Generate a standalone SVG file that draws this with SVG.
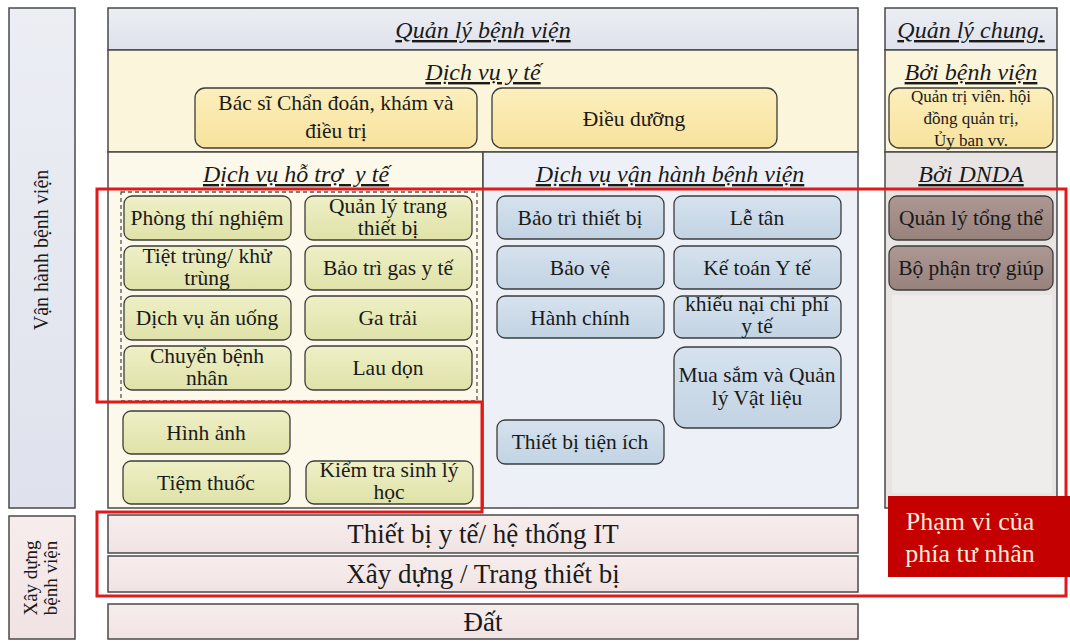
<svg xmlns="http://www.w3.org/2000/svg" width="1070" height="641" viewBox="0 0 1070 641">
<defs>
<linearGradient id="gGreen" x1="0" y1="0" x2="0" y2="1"><stop offset="0" stop-color="#eef0c6"/><stop offset="1" stop-color="#dfe2a8"/></linearGradient>
<linearGradient id="gBlue" x1="0" y1="0" x2="0" y2="1"><stop offset="0" stop-color="#d6e2ee"/><stop offset="1" stop-color="#c2d3e3"/></linearGradient>
<linearGradient id="gYellow" x1="0" y1="0" x2="0" y2="1"><stop offset="0" stop-color="#fcefbd"/><stop offset="1" stop-color="#f8e29c"/></linearGradient>
<linearGradient id="gBrown" x1="0" y1="0" x2="0" y2="1"><stop offset="0" stop-color="#ad9893"/><stop offset="1" stop-color="#98827c"/></linearGradient>
<linearGradient id="gLav" x1="0" y1="0" x2="0" y2="1"><stop offset="0" stop-color="#eceef4"/><stop offset="1" stop-color="#dfe2ec"/></linearGradient>
<linearGradient id="gPink" x1="0" y1="0" x2="0" y2="1"><stop offset="0" stop-color="#f7eded"/><stop offset="1" stop-color="#f1e3e3"/></linearGradient>
</defs>
<style>
.frame{stroke:#4a4a4a;stroke-width:1.5}
.box{stroke:#3c3c3c;stroke-width:1.3}
.green{fill:url(#gGreen)}
.blue{fill:url(#gBlue)}
.yellow{fill:url(#gYellow)}
.brown{fill:url(#gBrown)}
text{font-family:"Liberation Serif","Times New Roman",serif;fill:#1a1a1a;text-anchor:middle}
.t{font-size:21.5px}
.title{font-size:24px;font-style:italic;text-decoration:underline}
.big{font-size:27px}
.small{font-size:17px}
.side{font-size:20px}
.red{fill:none;stroke:#e01a1a;stroke-width:3}
</style>

<!-- left side labels -->
<g id="side-operation">
<rect x="9" y="8" width="66" height="500" fill="url(#gLav)" class="frame"/>
<text class="side" transform="translate(48,250) rotate(-90)">Vận hành bệnh viện</text>
</g>
<g id="side-construction">
<rect x="9" y="516" width="66" height="123" fill="url(#gPink)" class="frame"/>
<text class="side" style="font-size:19px" transform="translate(37,578) rotate(-90)">Xây dựng</text>
<text class="side" style="font-size:19px" transform="translate(57,578) rotate(-90)">bệnh viện</text>
</g>

<!-- main hospital block -->
<g id="hospital-management">
<rect x="108" y="8" width="750" height="42" fill="url(#gLav)" class="frame"/>
<text class="title" x="483" y="38">Quản lý bệnh viện</text>
</g>
<g id="medical-services">
<rect x="108" y="50" width="750" height="102" fill="#fbf5dc" class="frame"/>
<text class="title" x="483" y="80">Dịch vụ y tế</text>
</g>
<g id="medical-support">
<rect x="108" y="152" width="375" height="356" fill="#fcf8ea" class="frame"/>
<text class="title" x="296" y="182" xml:space="preserve">Dịch vụ hỗ trợ  y tế</text>
<rect x="121" y="192" width="356" height="209" fill="none" stroke="#555" stroke-width="1.3" stroke-dasharray="4,3"/>
</g>
<g id="hospital-operation-services">
<rect x="483" y="152" width="375" height="356" fill="#edf1f7" class="frame"/>
<text class="title" x="670" y="182">Dịch vụ vận hành bệnh viện</text>
</g>

<!-- right panel -->
<g id="general-management">
<rect x="885" y="8" width="172" height="42" fill="url(#gLav)" class="frame"/>
<text class="title" x="971" y="38">Quản lý chung.</text>
</g>
<g id="by-hospital">
<rect x="885" y="50" width="172" height="102" fill="#fbf5dc" class="frame"/>
<text class="title" x="971" y="80">Bởi bệnh viện</text>
</g>
<g id="by-dnda">
<rect x="885" y="152" width="172" height="356" fill="#e9e4e4" class="frame"/>
<rect x="892" y="295" width="160" height="198" fill="#efecec"/>
<text class="title" x="971" y="182">Bởi DNDA</text>
</g>

<!-- medical services boxes -->
<g id="n-doctor">
<rect x="195" y="88" width="282" height="60" rx="10" class="box yellow"/>
<text class="t" x="336" y="110">Bác sĩ Chẩn đoán, khám và</text>
<text class="t" x="336" y="138">điều trị</text>
</g>
<g id="n-nursing">
<rect x="492" y="88" width="285" height="60" rx="10" class="box yellow"/>
<text class="t" x="634" y="126">Điều dưỡng</text>
</g>
<g id="n-board">
<rect x="889" y="88" width="164" height="60" rx="10" class="box yellow"/>
<text class="small" x="971" y="102">Quản trị viên. hội</text>
<text class="small" x="971" y="124">đồng quản trị,</text>
<text class="small" x="971" y="146">Ủy ban vv.</text>
</g>

<!-- medical support boxes -->
<g id="n-lab"><rect x="124" y="196" width="167" height="44" rx="8" class="box green"/><text class="t" x="207" y="225">Phòng thí nghiệm</text></g>
<g id="n-equip-mgmt"><rect x="305" y="196" width="167" height="44" rx="8" class="box green"/><text class="t" x="388" y="213">Quản lý trang</text><text class="t" x="388" y="235">thiết bị</text></g>
<g id="n-steril"><rect x="124" y="246" width="167" height="44" rx="8" class="box green"/><text class="t" x="207" y="263">Tiệt trùng/ khử</text><text class="t" x="207" y="285">trùng</text></g>
<g id="n-gas"><rect x="305" y="246" width="167" height="44" rx="8" class="box green"/><text class="t" x="388" y="275">Bảo trì gas y tế</text></g>
<g id="n-food"><rect x="124" y="296" width="167" height="44" rx="8" class="box green"/><text class="t" x="207" y="325">Dịch vụ ăn uống</text></g>
<g id="n-linen"><rect x="305" y="296" width="167" height="44" rx="8" class="box green"/><text class="t" x="388" y="325">Ga trải</text></g>
<g id="n-transfer"><rect x="124" y="346" width="167" height="44" rx="8" class="box green"/><text class="t" x="207" y="363">Chuyển bệnh</text><text class="t" x="207" y="385">nhân</text></g>
<g id="n-cleaning"><rect x="305" y="346" width="167" height="44" rx="8" class="box green"/><text class="t" x="388" y="375">Lau dọn</text></g>
<g id="n-imaging"><rect x="123" y="411" width="167" height="43" rx="8" class="box green"/><text class="t" x="206" y="440">Hình ảnh</text></g>
<g id="n-pharmacy"><rect x="123" y="461" width="167" height="43" rx="8" class="box green"/><text class="t" x="206" y="490">Tiệm thuốc</text></g>
<g id="n-physio"><rect x="306" y="461" width="167" height="43" rx="8" class="box green"/><text class="t" x="389" y="477">Kiểm tra sinh lý</text><text class="t" x="389" y="499">học</text></g>

<!-- operation boxes -->
<g id="n-maint"><rect x="497" y="196" width="167" height="43" rx="8" class="box blue"/><text class="t" x="580" y="225">Bảo trì thiết bị</text></g>
<g id="n-reception"><rect x="674" y="196" width="167" height="43" rx="8" class="box blue"/><text class="t" x="757" y="225">Lễ tân</text></g>
<g id="n-security"><rect x="497" y="246" width="167" height="43" rx="8" class="box blue"/><text class="t" x="580" y="275">Bảo vệ</text></g>
<g id="n-accounting"><rect x="674" y="246" width="167" height="43" rx="8" class="box blue"/><text class="t" x="757" y="275">Kế toán Y tế</text></g>
<g id="n-admin"><rect x="497" y="296" width="167" height="42" rx="8" class="box blue"/><text class="t" x="580" y="325">Hành chính</text></g>
<g id="n-claims"><rect x="674" y="296" width="167" height="42" rx="8" class="box blue"/><text class="t" x="757" y="311">khiếu nại chi phí</text><text class="t" x="757" y="333">y tế</text></g>
<g id="n-procurement"><rect x="674" y="347" width="167" height="81" rx="12" class="box blue"/><text class="t" x="757" y="382">Mua sắm và Quản</text><text class="t" x="757" y="405">lý Vật liệu</text></g>
<g id="n-utilities"><rect x="497" y="420" width="167" height="44" rx="8" class="box blue"/><text class="t" x="580" y="449">Thiết bị tiện ích</text></g>

<!-- DNDA boxes -->
<g id="n-overall"><rect x="889" y="196" width="164" height="44" rx="8" class="box brown"/><text class="t" x="971" y="225">Quản lý tổng thể</text></g>
<g id="n-helpdesk"><rect x="889" y="246" width="164" height="44" rx="8" class="box brown"/><text class="t" x="971" y="275">Bộ phận trợ giúp</text></g>

<!-- construction bars -->
<g id="n-it"><rect x="108" y="515" width="750" height="38" fill="url(#gPink)" class="frame"/><text class="big" x="483" y="543">Thiết bị y tế/ hệ thống IT</text></g>
<g id="n-building"><rect x="108" y="556" width="750" height="36" fill="url(#gPink)" class="frame"/><text class="big" x="483" y="583">Xây dựng / Trang thiết bị</text></g>
<g id="n-land"><rect x="108" y="604" width="750" height="35" fill="url(#gPink)" class="frame"/><text class="big" x="483" y="631">Đất</text></g>

<!-- private scope outline -->
<g id="connectors">
<path class="red" d="M97,189 H1066 V596 H97 V512 H482 V402 H97 Z"/>
</g>

<g id="n-private-scope">
<rect x="888" y="496" width="182" height="81" fill="#c40000"/>
<text x="970" y="530" style="font-size:26px;fill:#fbecd8">Phạm vi của</text>
<text x="970" y="562" style="font-size:26px;fill:#fbecd8">phía tư nhân</text>
</g>
</svg>
